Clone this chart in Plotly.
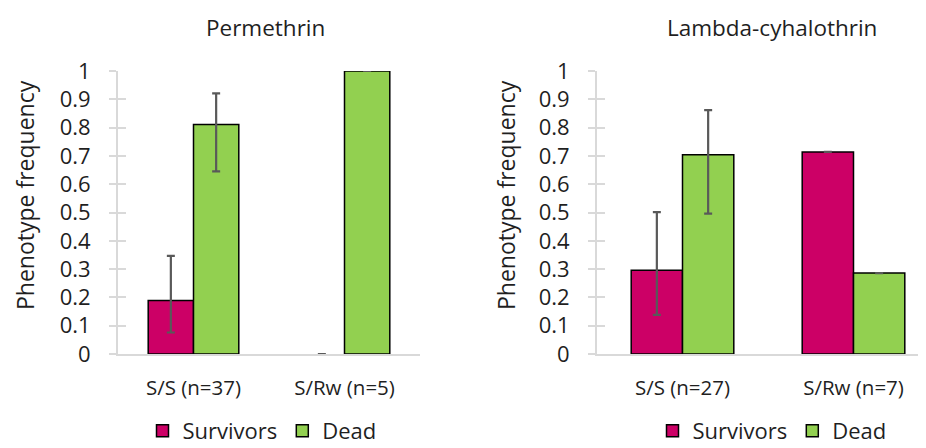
import plotly.graph_objects as go

categories_perm = ["S/S (n=37)", "S/Rw (n=5)"]
categories_lambda = ["S/S (n=27)", "S/Rw (n=7)"]

perm_survivors = [0.189, 0.0]
perm_dead = [0.811, 1.0]
perm_surv_err_plus = [0.158, 0.0]
perm_surv_err_minus = [0.113, 0.0]
perm_dead_err_plus = [0.110, 0.0]
perm_dead_err_minus = [0.166, 0.0]

lambda_survivors = [0.296, 0.714]
lambda_dead = [0.704, 0.286]
lambda_surv_err_plus = [0.205, 0.0]
lambda_surv_err_minus = [0.158, 0.0]
lambda_dead_err_plus = [0.158, 0.0]
lambda_dead_err_minus = [0.208, 0.0]

y_ticks = [0, 0.1, 0.2, 0.3, 0.4, 0.5, 0.6, 0.7, 0.8, 0.9, 1]
y_tick_text = ["0", "0.1", "0.2", "0.3", "0.4", "0.5", "0.6", "0.7", "0.8", "0.9", "1"]

MAGENTA = "#CC0066"
GREEN = "#92D050"
ERR = "#595959"
AX = "#D9D9D9"
TXT = "#1f1f1f"
FONT = "Open Sans"

W, H = 926, 448
OFF = 8  # page body margin offset


def PX(x):
    return (x - OFF) / W


def PY(y):
    return 1 - (y - OFF) / H


fig = go.Figure()


def err(plus, minus):
    return dict(type="data", symmetric=False, array=plus, arrayminus=minus,
                color=ERR, thickness=2.2, width=4)


def outline(values):
    # zero-height bars show no outline (hidden under the axis in the original)
    return dict(color="black", width=[1.5 if v > 0 else 0 for v in values])


fig.add_trace(go.Bar(x=categories_perm, y=perm_survivors, name="Survivors",
                     marker=dict(color=MAGENTA, line=outline(perm_survivors)),
                     error_y=err(perm_surv_err_plus, perm_surv_err_minus),
                     xaxis="x", yaxis="y", legend="legend"))
fig.add_trace(go.Bar(x=categories_perm, y=perm_dead, name="Dead",
                     marker=dict(color=GREEN, line=outline(perm_dead)),
                     error_y=err(perm_dead_err_plus, perm_dead_err_minus),
                     xaxis="x", yaxis="y", legend="legend"))
fig.add_trace(go.Bar(x=categories_lambda, y=lambda_survivors, name="Survivors",
                     marker=dict(color=MAGENTA, line=outline(lambda_survivors)),
                     error_y=err(lambda_surv_err_plus, lambda_surv_err_minus),
                     xaxis="x2", yaxis="y2", legend="legend2"))
fig.add_trace(go.Bar(x=categories_lambda, y=lambda_dead, name="Dead",
                     marker=dict(color=GREEN, line=outline(lambda_dead)),
                     error_y=err(lambda_dead_err_plus, lambda_dead_err_minus),
                     xaxis="x2", yaxis="y2", legend="legend2"))

ydom = [PY(354), PY(71)]
tickfont = dict(family=FONT, size=22, color=TXT)
catfont = dict(family=FONT, size=20.5, color=TXT)


def yaxis(anchor):
    return dict(range=[0, 1], domain=ydom, tickvals=y_ticks, ticktext=y_tick_text,
                showgrid=False, zeroline=False, showline=True, linecolor=AX, linewidth=2,
                ticks="outside", ticklen=7, tickcolor=AX, tickwidth=2,
                tickfont=tickfont, ticklabelstandoff=14, anchor=anchor,
                automargin=False, layer="above traces")


def yoverlay(anchor, over):
    return dict(range=[0, 1], domain=ydom, tickvals=y_ticks, showticklabels=False,
                showgrid=False, zeroline=False, showline=False,
                ticks="inside", ticklen=8, tickcolor=AX, tickwidth=2,
                anchor=anchor, overlaying=over, automargin=False)


def xaxis(domain, rng, anchor):
    return dict(domain=domain, range=rng, showgrid=False, zeroline=False,
                showline=True, linecolor=AX, linewidth=2, ticks="",
                tickfont=catfont, ticklabelstandoff=14, anchor=anchor,
                type="category", automargin=False, layer="above traces")


legfont = dict(family=FONT, size=22, color=TXT)

# right panel: plot runs from x=597 past the page edge; 171 px per category
right_span = (W + OFF - 597) / 171.0

fig.update_layout(
    width=W, height=H,
    margin=dict(l=0, r=0, t=0, b=0, autoexpand=False),
    paper_bgcolor="white", plot_bgcolor="white",
    font=dict(family=FONT, color=TXT),
    barmode="group", bargap=0.4, bargroupgap=0,
    xaxis=xaxis([PX(118), PX(420)], [-0.5, 1.5], "y"),
    xaxis2=xaxis([PX(597), 1.0], [-0.5, -0.5 + right_span], "y2"),
    yaxis=yaxis("x"),
    yaxis2=yaxis("x2"),
    yaxis3=yoverlay("x", "y"),
    yaxis4=yoverlay("x2", "y2"),
    legend=dict(orientation="h", xref="container", yref="container",
                x=PX(262), xanchor="center", y=PY(431), yanchor="middle",
                font=legfont, itemwidth=30, bgcolor="rgba(0,0,0,0)"),
    legend2=dict(orientation="h", xref="container", yref="container",
                 x=PX(772), xanchor="center", y=PY(431), yanchor="middle",
                 font=legfont, itemwidth=30, bgcolor="rgba(0,0,0,0)"),
    showlegend=True,
)

fig.add_trace(go.Scatter(x=[None], y=[None], xaxis="x", yaxis="y3", showlegend=False, hoverinfo="skip"))
fig.add_trace(go.Scatter(x=[None], y=[None], xaxis="x2", yaxis="y4", showlegend=False, hoverinfo="skip"))

annotations = [
    dict(text="Permethrin", x=PX(265), y=PY(27), size=22.5),
    dict(text="Lambda-cyhalothrin", x=PX(772), y=PY(27), size=22.5),
    dict(text="Phenotype frequency", x=PX(25), y=PY(195), textangle=-90, size=23),
    dict(text="Phenotype frequency", x=PX(506), y=PY(195), textangle=-90, size=23),
]
for a in annotations:
    s = a.pop("size")
    a.update(xref="paper", yref="paper", showarrow=False, xanchor="center", yanchor="middle",
             font=dict(family=FONT, size=s, color=TXT))
fig.update_layout(annotations=annotations)

fig.write_html("out.html")
